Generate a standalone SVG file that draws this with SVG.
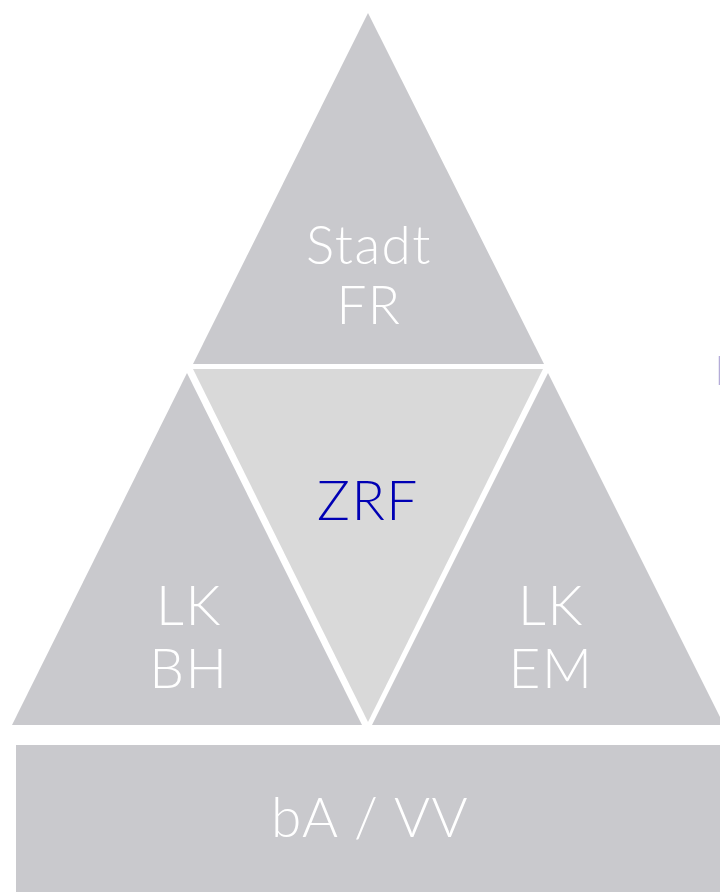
<svg xmlns="http://www.w3.org/2000/svg" width="720" height="892" viewBox="0 0 720 892">
<style>
.tri{fill:#c9c9cd}
.mid{fill:#d9d9d9}
.lbl{font-family:Lato,"Open Sans","Liberation Sans",sans-serif;font-weight:300;font-size:55px;letter-spacing:1.5px;fill:#ffffff;text-anchor:middle}
.sm{font-size:53px}
.blue{fill:#0000b4}
</style>
<rect width="720" height="892" fill="#ffffff"/>
<g id="stadt-fr">
<polygon class="tri" points="368,13 544,364 193,364"/>
<text class="lbl sm" x="369" y="264">Stadt</text>
<text class="lbl sm" x="369" y="324">FR</text>
</g>
<g id="zrf">
<polygon class="mid" points="193,369 543,369 368,722"/>
<text class="lbl blue" x="368" y="520">ZRF</text>
</g>
<g id="lk-bh">
<polygon class="tri" points="187,373 362,725 12,725"/>
<text class="lbl" x="189" y="625">LK</text>
<text class="lbl" x="189" y="688">BH</text>
</g>
<g id="lk-em">
<polygon class="tri" points="548,373 724,725 372,725"/>
<text class="lbl" x="551" y="625">LK</text>
<text class="lbl" x="551" y="688">EM</text>
</g>
<g id="ba-vv">
<rect class="tri" x="16" y="745" width="720" height="160"/>
<text class="lbl" x="370" y="837">bA / VV</text>
</g>
<line x1="719.5" y1="356" x2="719.5" y2="385" stroke="#b4acd8" stroke-width="1.5"/>
</svg>
